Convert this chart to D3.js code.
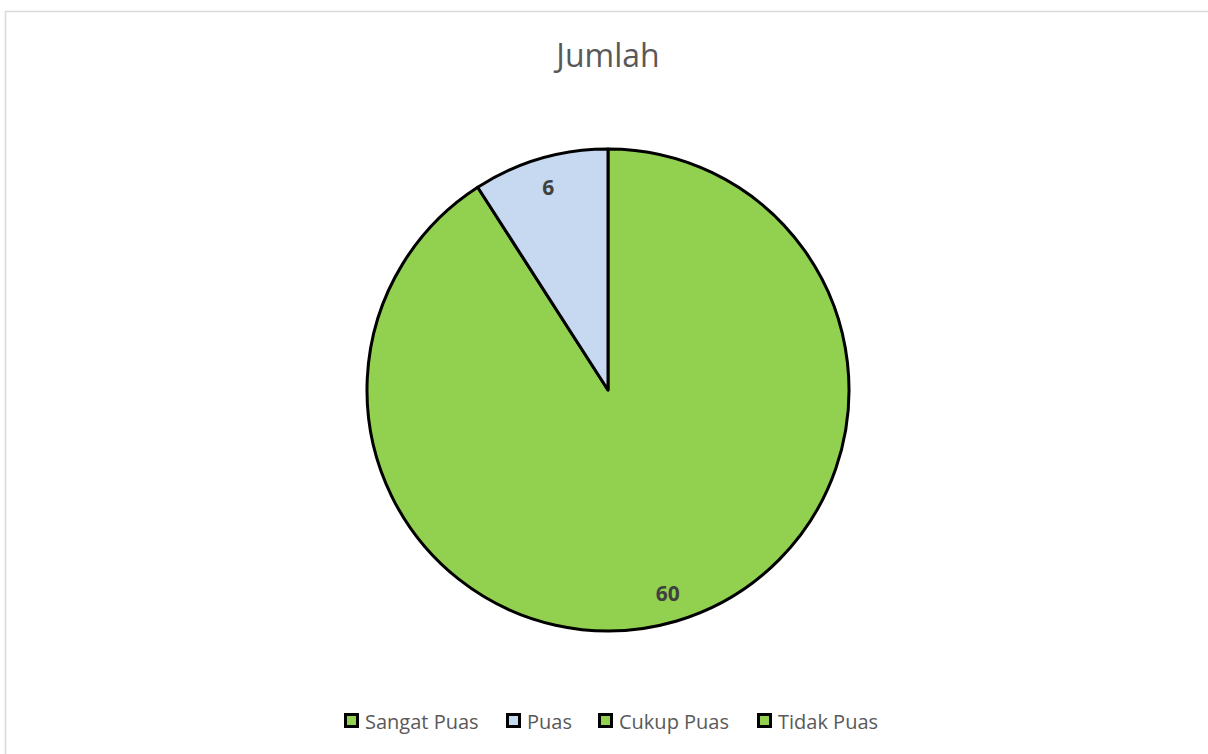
<!DOCTYPE html>
<html><head><meta charset="utf-8">
<script src="https://cdn.jsdelivr.net/npm/d3@7"></script>
<style>body{margin:0;background:#fff;}svg{display:block;}</style>
</head><body>
<svg id="c" width="1208" height="754"></svg>
<script>
const title = "Jumlah";
const categories = ["Sangat Puas", "Puas", "Cukup Puas", "Tidak Puas"];
const values = [60, 6, 0, 0];
const colors = ["#92d050", "#c6d9f1", "#92d050", "#92d050"];

const svg = d3.select("#c");
const W = 1208, H = 754;
svg.append("rect").attr("x", 5.5).attr("y", 11.5).attr("width", W).attr("height", H)
  .attr("fill", "#fff").attr("stroke", "#d9d9d9").attr("stroke-width", 1.5);

const font = "'Open Sans', 'Liberation Sans', sans-serif";
svg.append("text").attr("x", 608).attr("y", 67).attr("text-anchor", "middle")
  .attr("font-family", font).attr("font-size", 32).attr("fill", "#595959").text(title);

const cx = 608, cy = 390, R = 241;
const data = categories.map((c, i) => ({cat: c, v: values[i], col: colors[i]}));
const pie = d3.pie().value(d => d.v).sort(null);
const arcs = pie(data);
const arc = d3.arc().innerRadius(0).outerRadius(R);
const labelArc = d3.arc().innerRadius(R * 0.88).outerRadius(R * 0.88);
const g = svg.append("g").attr("transform", `translate(${cx},${cy})`);
g.selectAll("path").data(arcs.filter(a => a.data.v > 0)).join("path")
  .attr("d", arc).attr("fill", d => d.data.col)
  .attr("stroke", "#000").attr("stroke-width", 3).attr("stroke-linejoin", "round");
g.selectAll("text").data(arcs.filter(a => a.data.v > 0)).join("text")
  .attr("transform", d => `translate(${labelArc.centroid(d)})`)
  .attr("text-anchor", "middle").attr("dominant-baseline", "central")
  .attr("font-family", font).attr("font-weight", "bold").attr("font-size", 21)
  .attr("fill", "#404040").text(d => d.data.v);

// legend
const legX = [344, 506, 598, 757];
const leg = svg.append("g");
categories.forEach((c, i) => {
  leg.append("rect").attr("x", legX[i] + 1.5).attr("y", 714.5).attr("width", 12).attr("height", 12)
    .attr("fill", colors[i]).attr("stroke", "#000").attr("stroke-width", 3);
  leg.append("text").attr("x", legX[i] + 21).attr("y", 721).attr("dominant-baseline", "central")
    .attr("font-family", font).attr("font-size", 20).attr("fill", "#595959").text(c);
});
</script>
</body></html>
